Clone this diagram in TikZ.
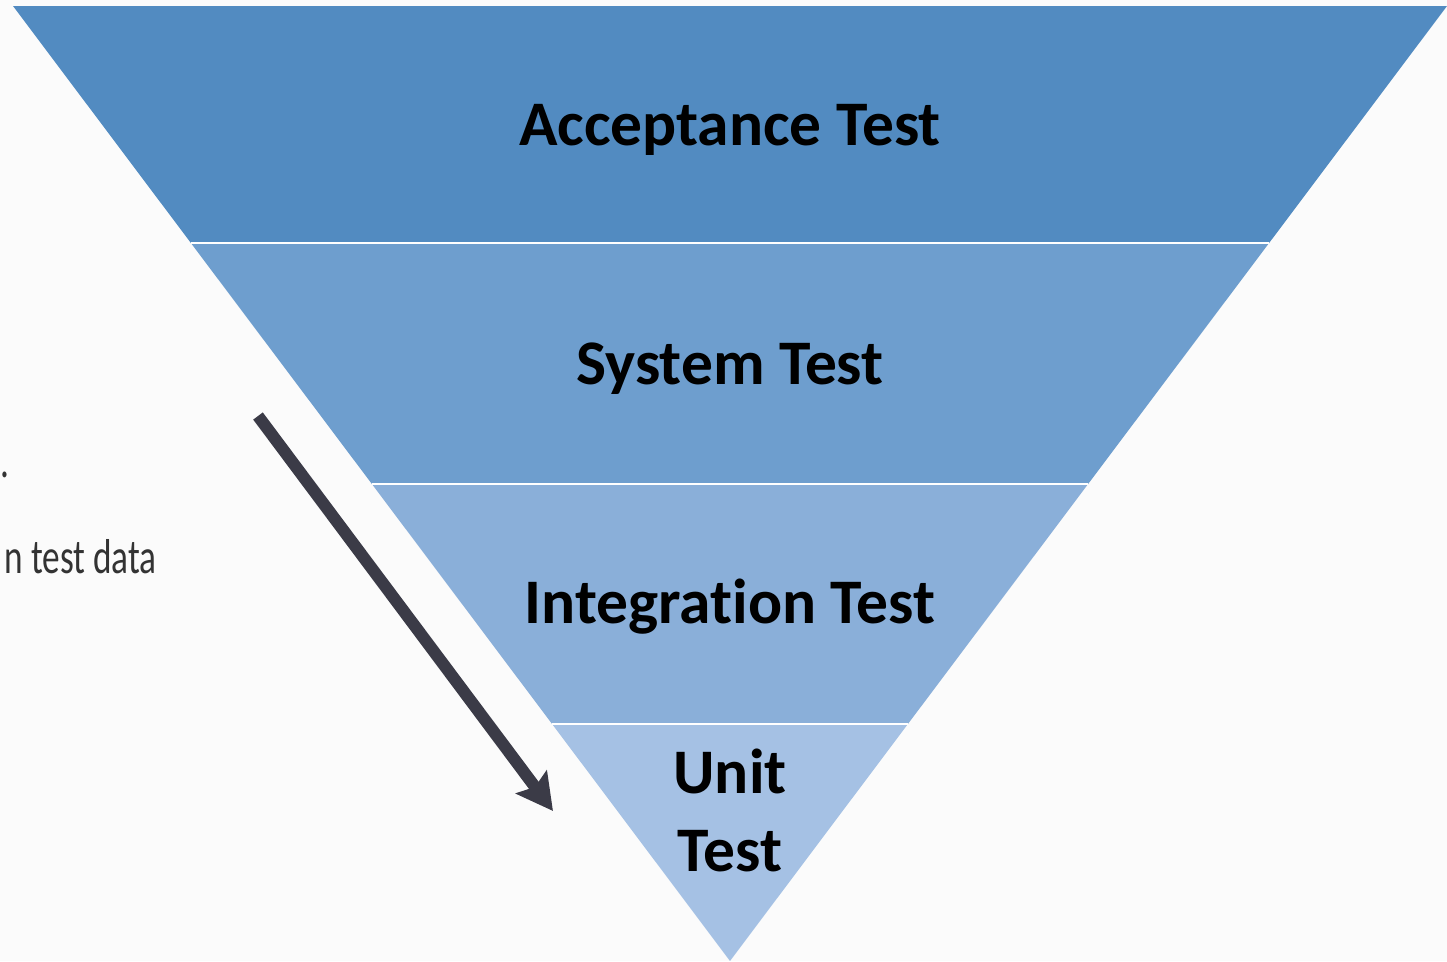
\documentclass[tikz,border=0pt]{standalone}
\usepackage{fontspec}
\setmainfont{Carlito}[Ligatures=NoCommon]
\newfontfamily\notefont[FakeStretch=0.72]{Carlito}
\usetikzlibrary{arrows.meta,positioning}
\definecolor{bgcol}{HTML}{FBFBFB}
\definecolor{bandA}{HTML}{528BC1}
\definecolor{bandB}{HTML}{6E9ECE}
\definecolor{bandC}{HTML}{8AAFD9}
\definecolor{bandD}{HTML}{A5C1E4}
\definecolor{arrowgray}{HTML}{3B3B47}
\definecolor{notegray}{HTML}{333333}

\begin{document}
\begin{tikzpicture}[x=1pt,y=-1pt,>={Stealth[length=36pt,width=38pt,inset=6pt]},
	band/.style={fill=#1},
	sep/.style={draw=white,line width=2.5pt},
	lbl/.style={font=\fontsize{63.5}{78}\selectfont\bfseries,text=black,inner sep=0pt},
	note/.style={font=\notefont\fontsize{49}{58}\selectfont,text=notegray,inner sep=0pt}]

\fill[bgcol] (0,0) rectangle (1447,961);
\clip (0,0) rectangle (1447,961);

\coordinate (tl) at (13,6);
\coordinate (tr) at (1447,6);
\coordinate (l1) at (190.9,243);
\coordinate (r1) at (1269.1,243);
\coordinate (l2) at (371.9,484);
\coordinate (r2) at (1088.1,484);
\coordinate (l3) at (552.1,724);
\coordinate (r3) at (907.9,724);
\coordinate (apex) at (730,961);

\fill[band=bandA] (tl) -- (tr) -- (r1) -- (l1) -- cycle;
\fill[band=bandB] (l1) -- (r1) -- (r2) -- (l2) -- cycle;
\fill[band=bandC] (l2) -- (r2) -- (r3) -- (l3) -- cycle;
\fill[band=bandD] (l3) -- (r3) -- (apex) -- cycle;

\draw[sep] (l1) -- (r1);
\draw[sep] (l2) -- (r2);
\draw[sep] (l3) -- (r3);

\node[lbl,anchor=base]			(acc)	at (730,145)	{Acceptance Test};
\node[lbl,anchor=base]			(sys)	at (730,384)	{System Test};
\node[lbl,anchor=base]			(integ)	at (730,623)	{Integration Test};
\node[lbl,anchor=base,align=center]	(unit)	at (730,871)	{Unit\\Test};

\node[note,anchor=base west]	(dotnote)	at (0,477)		{.};
\node[note,anchor=base east]	(datanote)	at (157,573)	{n test data};

\coordinate (from) at (258,416);
\coordinate (to) at (553,811);
\draw[->,line width=12pt,arrowgray] (from) -- (to);

\end{tikzpicture}
\end{document}
